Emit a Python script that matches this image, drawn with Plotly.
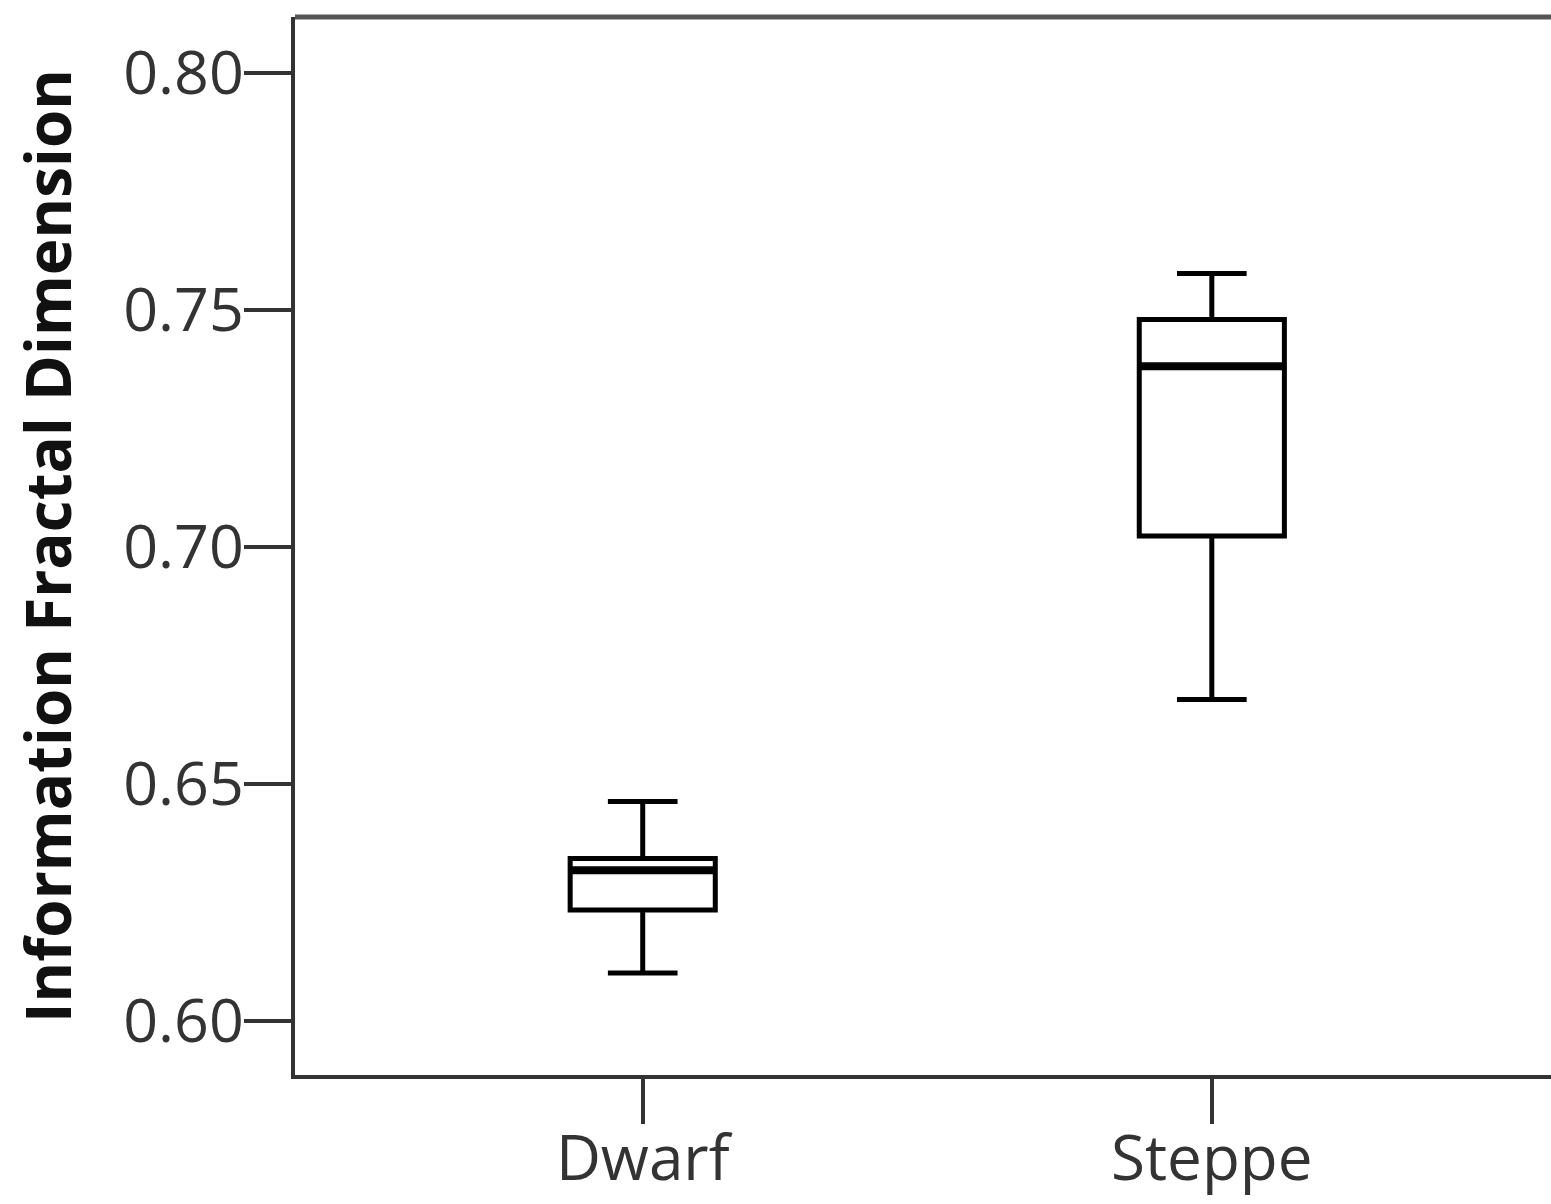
import plotly.graph_objects as go

categories = ["Dwarf", "Steppe"]
lower_whisker = [0.6101, 0.6678]
q1_vals = [0.6234, 0.7023]
median_vals = [0.6318, 0.7381]
q3_vals = [0.6343, 0.7480]
upper_whisker = [0.6463, 0.7577]
y_ticks = [0.60, 0.65, 0.70, 0.75, 0.80]
y_tick_labels = ["0.60", "0.65", "0.70", "0.75", "0.80"]

BOX_W = 0.255
fig = go.Figure()
for i, cat in enumerate(categories):
    fig.add_trace(go.Box(
        x=[i], q1=[q1_vals[i]], median=[median_vals[i]], q3=[q3_vals[i]],
        lowerfence=[lower_whisker[i]], upperfence=[upper_whisker[i]],
        width=BOX_W, whiskerwidth=0.48, fillcolor="white",
        line=dict(color="black", width=5), boxpoints=False,
        name=cat, showlegend=False, hoverinfo="skip"))
    fig.add_trace(go.Scatter(
        x=[i - BOX_W / 2, i + BOX_W / 2], y=[median_vals[i], median_vals[i]],
        mode="lines", line=dict(color="black", width=8),
        showlegend=False, hoverinfo="skip"))

font_family = "Open Sans, DejaVu Sans, sans-serif"
fig.update_layout(
    width=1551, height=1204,
    margin=dict(l=295, r=0, t=17, b=129, autoexpand=False),
    paper_bgcolor="white", plot_bgcolor="white",
    font=dict(family=font_family, color="#333333"),
    showlegend=False,
    xaxis=dict(range=[-0.611, 1.596], tickvals=list(range(len(categories))),
               ticktext=categories, showgrid=False, zeroline=False,
               showline=True, linecolor="#333333", linewidth=4,
               ticks="outside", ticklen=45, tickwidth=4, tickcolor="#333333",
               ticklabelstandoff=-18, automargin=False,
               tickfont=dict(size=62, color="#333333")),
    yaxis=dict(range=[0.5886, 0.8118], tickvals=y_ticks, ticktext=y_tick_labels,
               showgrid=False, zeroline=False,
               showline=True, linecolor="#333333", linewidth=4,
               ticks="outside", ticklen=47, tickwidth=4, tickcolor="#333333",
               ticklabelstandoff=-12, automargin=False,
               tickfont=dict(size=61, color="#333333")),
    shapes=[dict(type="line", xref="paper", yref="paper", x0=0, x1=1, y0=1, y1=1,
                 line=dict(color="#555555", width=5))],
)
fig.update_yaxes(title=dict(text="<b>Information Fractal Dimension</b>",
                            font=dict(size=62, color="#111111"), standoff=32))
fig.write_html("out.html", config={"displayModeBar": False},
               post_script="document.body.style.margin='0';document.body.style.overflow='hidden';")
